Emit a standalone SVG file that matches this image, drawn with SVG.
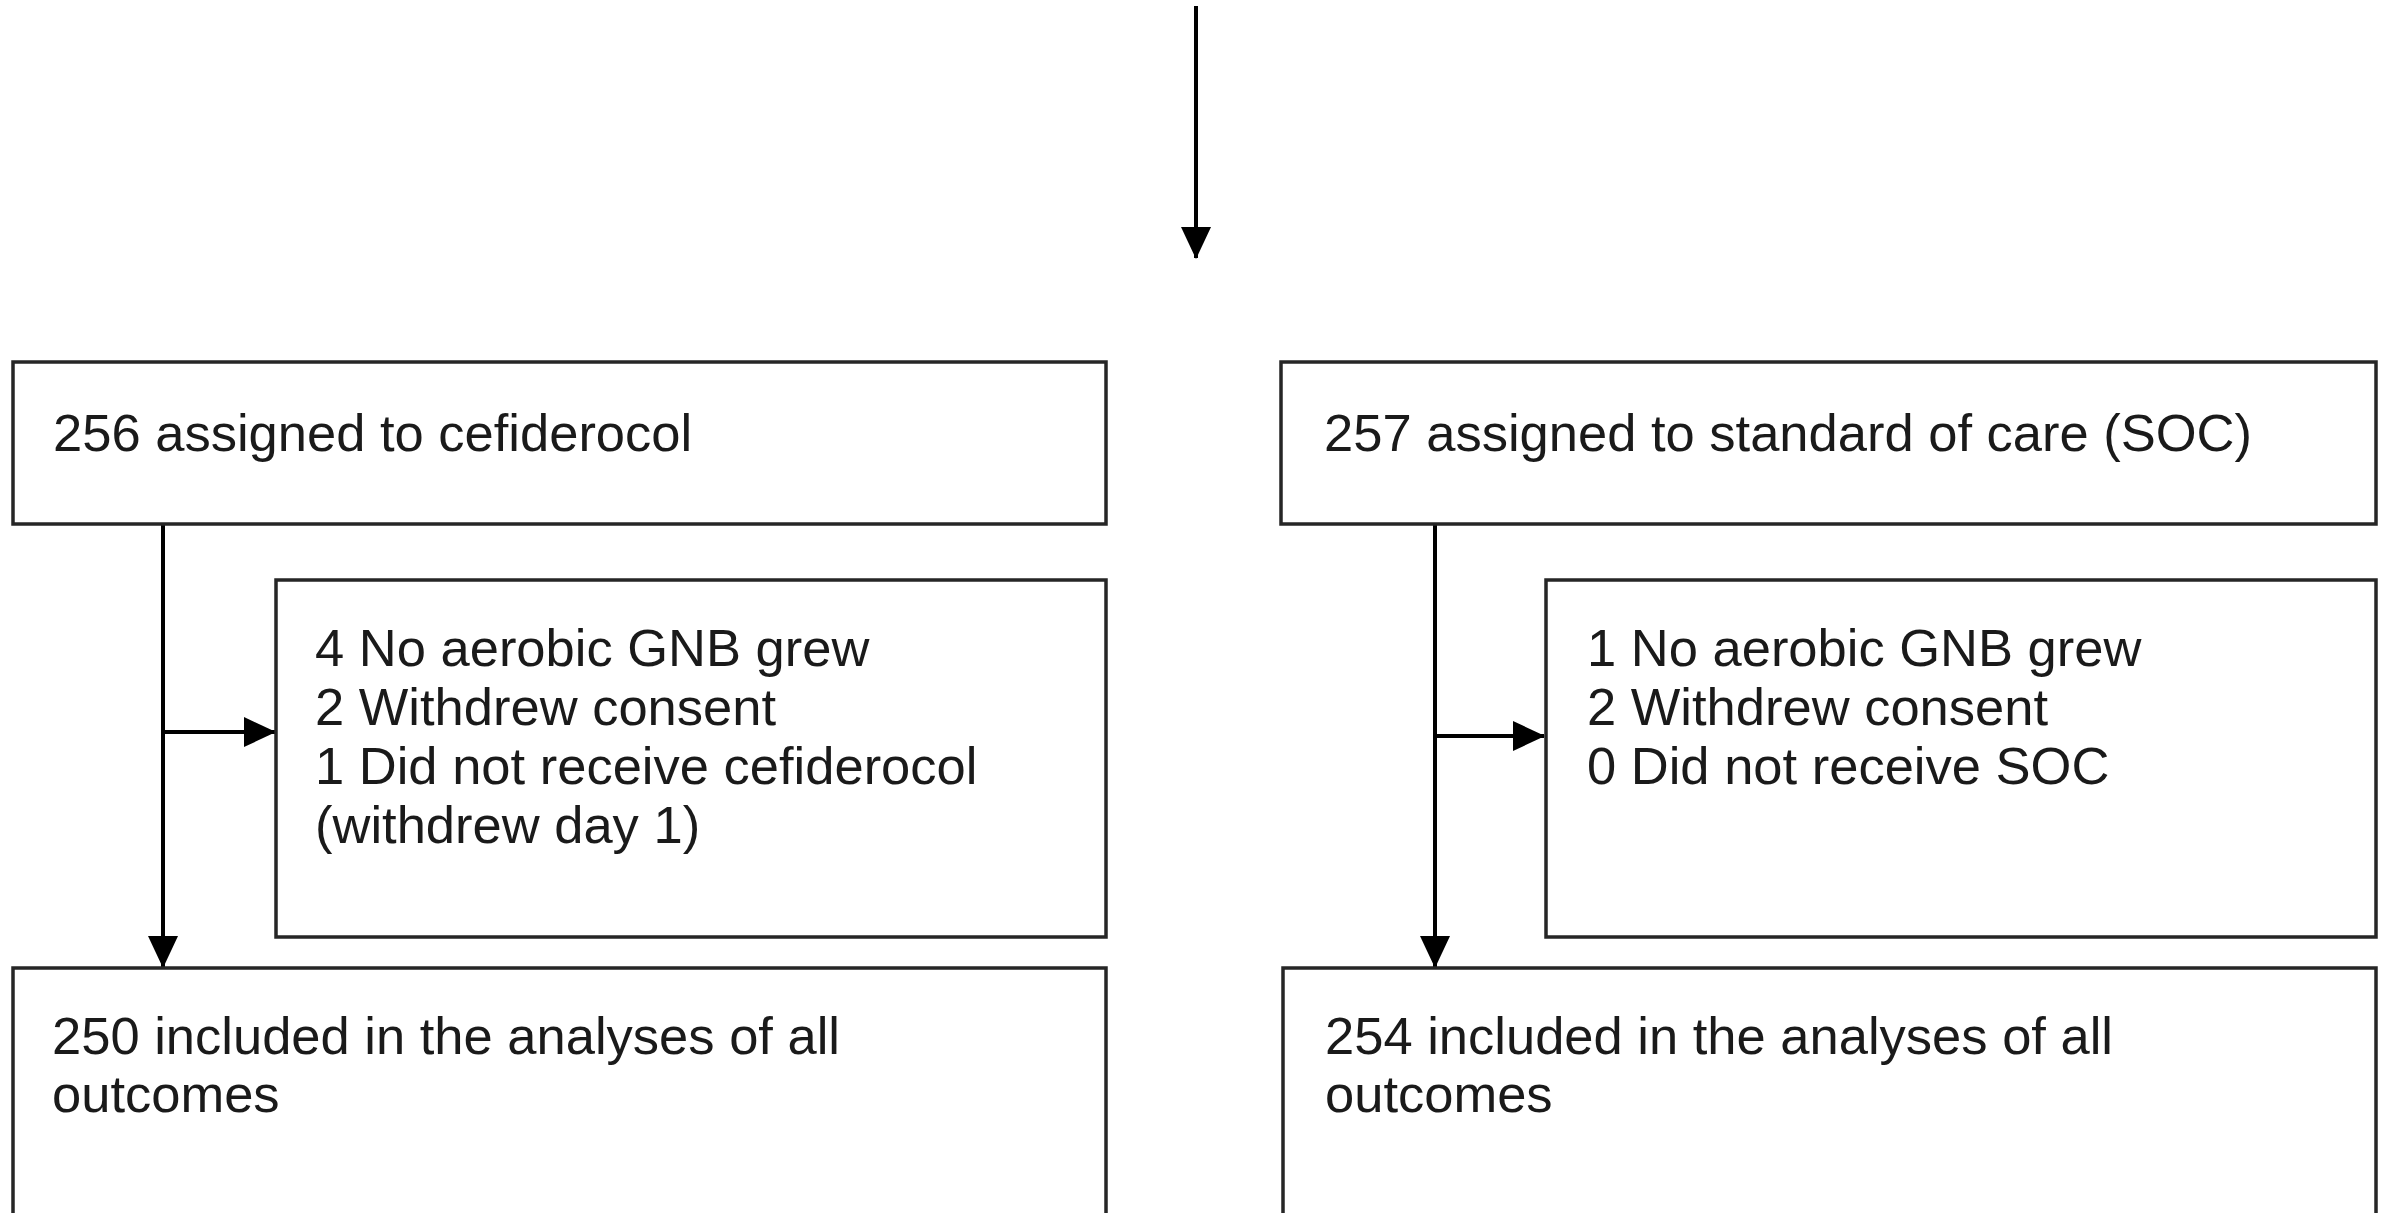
<svg xmlns="http://www.w3.org/2000/svg" width="2386" height="1213" viewBox="0 0 2386 1213">
<style>
.box{fill:#fff;stroke:#262626;stroke-width:3.5}
.t{font-family:"Liberation Sans",Arial,sans-serif;font-size:52.5px;fill:#1a1a1a}
.c{stroke:#000;stroke-width:4;fill:none}
</style>
<defs>
<marker id="ah" markerUnits="userSpaceOnUse" markerWidth="32" markerHeight="32" viewBox="0 0 32 32" refX="31" refY="16" orient="auto">
<path d="M0,1 L32,16 L0,31 Z" fill="#000"/>
</marker>
</defs>
<rect width="2386" height="1213" fill="#fff"/>
<g id="connectors">
<line class="c" x1="1196" y1="6" x2="1196" y2="258" marker-end="url(#ah)"/>
<line class="c" x1="163" y1="524" x2="163" y2="967" marker-end="url(#ah)"/>
<line class="c" x1="163" y1="732" x2="275" y2="732" marker-end="url(#ah)"/>
<line class="c" x1="1435" y1="524" x2="1435" y2="967" marker-end="url(#ah)"/>
<line class="c" x1="1435" y1="736" x2="1544" y2="736" marker-end="url(#ah)"/>
</g>
<g id="node-cef">
<rect class="box" x="13" y="362" width="1093" height="162"/>
<text class="t" x="53" y="451">256 assigned to cefiderocol</text>
</g>
<g id="node-soc">
<rect class="box" x="1281" y="362" width="1095" height="162"/>
<text class="t" x="1324" y="451">257 assigned to standard of care (SOC)</text>
</g>
<g id="node-cef-excl">
<rect class="box" x="276" y="580" width="830" height="357"/>
<text class="t" x="315" y="666">4 No aerobic GNB grew</text>
<text class="t" x="315" y="725">2 Withdrew consent</text>
<text class="t" x="315" y="784">1 Did not receive cefiderocol</text>
<text class="t" x="315" y="843">(withdrew day 1)</text>
</g>
<g id="node-soc-excl">
<rect class="box" x="1546" y="580" width="830" height="357"/>
<text class="t" x="1587" y="666">1 No aerobic GNB grew</text>
<text class="t" x="1587" y="725">2 Withdrew consent</text>
<text class="t" x="1587" y="784">0 Did not receive SOC</text>
</g>
<g id="node-cef-incl">
<rect class="box" x="13" y="968" width="1093" height="260"/>
<text class="t" x="52" y="1054">250 included in the analyses of all</text>
<text class="t" x="52" y="1112">outcomes</text>
</g>
<g id="node-soc-incl">
<rect class="box" x="1283" y="968" width="1093" height="260"/>
<text class="t" x="1325" y="1054">254 included in the analyses of all</text>
<text class="t" x="1325" y="1112">outcomes</text>
</g>
</svg>
